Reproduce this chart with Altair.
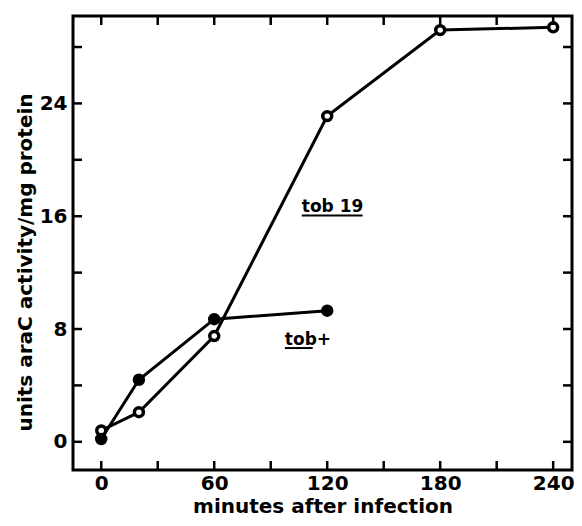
import altair as alt
import pandas as pd

# --- data ---
minutes_tob19 = [0, 20, 60, 120, 180, 240]
activity_tob19 = [0.8, 2.1, 7.5, 23.1, 29.2, 29.4]
minutes_tobplus = [0, 20, 60, 120]
activity_tobplus = [0.2, 4.4, 8.7, 9.3]

x_label_values = [0, 60, 120, 180, 240]
x_tick_values = [0, 30, 60, 90, 120, 150, 180, 210, 240]
y_label_values = [0, 8, 16, 24]
y_tick_values = [0, 4, 8, 12, 16, 20, 24, 28]

label_text = ["tob 19", "tob+"]
label_x = [106.5, 97.5]
label_y = [16.3, 6.9]
underline_x2 = [138.8, 112.3]
underline_y = [16.05, 6.65]

X_MIN, X_MAX = -15, 250
Y_MIN, Y_MAX = -2, 30.2

W, H = 499, 454
FONT = "DejaVu Sans"
TICK_PX = 9
TX = TICK_PX * (X_MAX - X_MIN) / W   # tick length in x units
TY = TICK_PX * (Y_MAX - Y_MIN) / H   # tick length in y units

# --- tables ---
df = pd.DataFrame({
    "minutes": minutes_tob19 + minutes_tobplus,
    "activity": activity_tob19 + activity_tobplus,
    "strain": ["tob 19"] * len(minutes_tob19) + ["tob+"] * len(minutes_tobplus),
})
ann = pd.DataFrame({
    "label": label_text,
    "x": label_x,
    "y": label_y,
    "x2": underline_x2,
    "uy": underline_y,
})
xt = pd.DataFrame({"v": x_tick_values})
xt["b0"] = Y_MIN
xt["b1"] = Y_MIN + TY
xt["t0"] = Y_MAX
xt["t1"] = Y_MAX - TY
yt = pd.DataFrame({"w": y_tick_values})
yt["l0"] = X_MIN
yt["l1"] = X_MIN + TX
yt["r0"] = X_MAX
yt["r1"] = X_MAX - TX

xs = alt.Scale(domain=[X_MIN, X_MAX], nice=False, zero=False)
ys = alt.Scale(domain=[Y_MIN, Y_MAX], nice=False, zero=False)

x_main = alt.Axis(orient="bottom", values=x_label_values, domain=False, grid=False,
                  ticks=False, labelPadding=3, labelFlush=False,
                  labelOverlap=False,
                  labelFont=FONT, labelFontSize=20, labelFontWeight="bold",
                  labelColor="black",
                  title="minutes after infection", titleFont=FONT, titleFontSize=20,
                  titleFontWeight="bold", titleColor="black",
                  titleX=W / 2, titleY=42, titleAlign="center",
                  titleBaseline="alphabetic")
y_main = alt.Axis(orient="left", values=y_label_values, domain=False, grid=False,
                  ticks=False, labelPadding=6, labelFlush=False,
                  labelOverlap=False,
                  labelFont=FONT, labelFontSize=20, labelFontWeight="bold",
                  labelColor="black",
                  title="units araC activity/mg protein", titleFont=FONT,
                  titleFontSize=20, titleFontWeight="bold", titleColor="black",
                  titleAngle=270, titleX=-42, titleY=246, titleAlign="center",
                  titleBaseline="alphabetic")

lines = alt.Chart(df).mark_line(color="black", strokeWidth=3).encode(
    x=alt.X("minutes:Q", scale=xs, axis=x_main),
    y=alt.Y("activity:Q", scale=ys, axis=y_main),
    detail="strain:N",
)

points = alt.Chart(df).mark_point(filled=True, stroke="black", opacity=1,
                                  shape="circle").encode(
    x=alt.X("minutes:Q", scale=xs, axis=None),
    y=alt.Y("activity:Q", scale=ys, axis=None),
    fill=alt.Fill("strain:N", scale=alt.Scale(domain=["tob 19", "tob+"],
                                              range=["white", "black"]), legend=None),
    size=alt.Size("strain:N", scale=alt.Scale(domain=["tob 19", "tob+"],
                                              range=[80, 110]), legend=None),
    strokeWidth=alt.StrokeWidth("strain:N", scale=alt.Scale(domain=["tob 19", "tob+"],
                                                            range=[3.5, 2]), legend=None),
)

labels = alt.Chart(ann).mark_text(align="left", baseline="alphabetic", font=FONT,
                                  fontSize=17, fontWeight="bold", color="black").encode(
    x=alt.X("x:Q", scale=xs, axis=None),
    y=alt.Y("y:Q", scale=ys, axis=None),
    text="label:N",
)

underlines = alt.Chart(ann).mark_rule(color="black", strokeWidth=2).encode(
    x=alt.X("x:Q", scale=xs, axis=None),
    x2="x2:Q",
    y=alt.Y("uy:Q", scale=ys, axis=None),
)

# inward tick marks on all four sides of the frame
ticks_bottom = alt.Chart(xt).mark_rule(color="black", strokeWidth=2.5).encode(
    x=alt.X("v:Q", scale=xs, axis=None), y=alt.Y("b0:Q", scale=ys, axis=None),
    y2="b1:Q")
ticks_top = alt.Chart(xt).mark_rule(color="black", strokeWidth=2.5).encode(
    x=alt.X("v:Q", scale=xs, axis=None), y=alt.Y("t0:Q", scale=ys, axis=None),
    y2="t1:Q")
ticks_left = alt.Chart(yt).mark_rule(color="black", strokeWidth=2.5).encode(
    y=alt.Y("w:Q", scale=ys, axis=None), x=alt.X("l0:Q", scale=xs, axis=None),
    x2="l1:Q")
ticks_right = alt.Chart(yt).mark_rule(color="black", strokeWidth=2.5).encode(
    y=alt.Y("w:Q", scale=ys, axis=None), x=alt.X("r0:Q", scale=xs, axis=None),
    x2="r1:Q")

chart = (
    alt.layer(lines, points, labels, underlines,
              ticks_bottom, ticks_top, ticks_left, ticks_right)
    .resolve_axis(x="independent", y="independent")
    .properties(width=W, height=H, autosize="none",
                padding={"left": 65, "top": 8, "right": 2, "bottom": 47})
    .configure_view(stroke="black", strokeWidth=3)
)

chart.save("out.html", embed_options={"renderer": "svg", "actions": False})
